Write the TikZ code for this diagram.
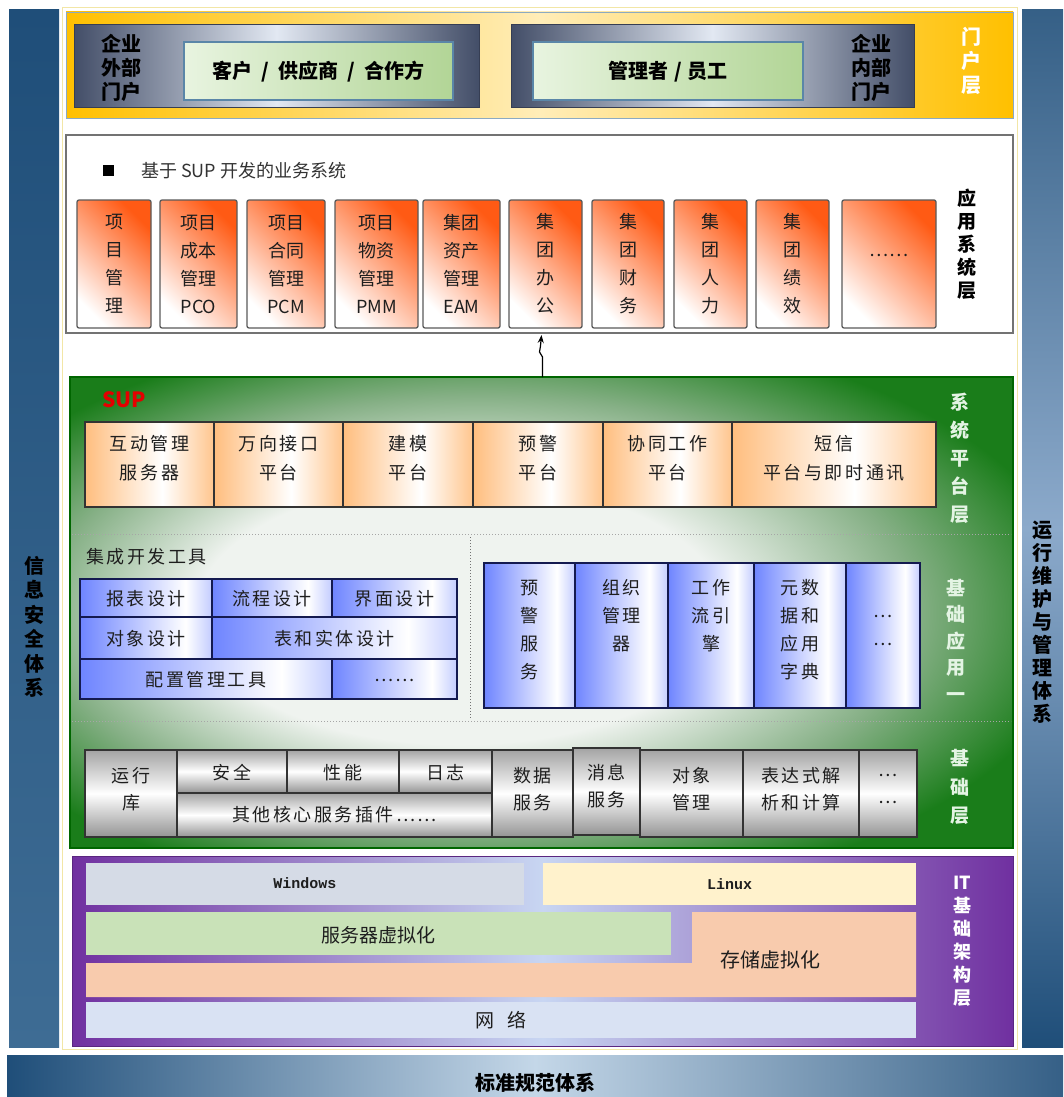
\documentclass[tikz,border=0pt]{standalone}
\usepackage{fontspec}
\setmainfont{Noto Sans CJK SC}
\newfontfamily\cjksp[LetterSpace=14]{Noto Sans CJK SC}
\newfontfamily\monob{Liberation Mono}
\usetikzlibrary{arrows.meta,calc}
\definecolor{bardark}{HTML}{1F4E79}
\definecolor{barmid}{HTML}{3E6C94}
\definecolor{barlight}{HTML}{8CAACB}
\definecolor{botlight}{HTML}{C4D7E8}
\definecolor{gold}{HTML}{FFC000}
\definecolor{goldlight}{HTML}{FFEDB8}
\definecolor{slate}{HTML}{434E68}
\definecolor{slatelight}{HTML}{E2E8F2}
\definecolor{gboxl}{HTML}{E8F4E0}
\definecolor{gboxr}{HTML}{B2D596}
\definecolor{gboxedge}{HTML}{5A86A8}
\definecolor{appor}{HTML}{FF5A14}
\definecolor{appedge}{HTML}{5A5A5A}
\definecolor{platorange}{HTML}{FF9630}
\definecolor{bluebx}{HTML}{2A4BFF}
\definecolor{navyedge}{HTML}{141A50}
\definecolor{supgreen}{HTML}{1A7D1A}
\definecolor{supmid}{HTML}{86B086}
\definecolor{suplight}{HTML}{EFF3EF}
\definecolor{paleg}{HTML}{E4F4E4}
\definecolor{purp}{HTML}{7030A0}
\definecolor{purplight}{HTML}{C8D6F2}
\definecolor{winbar}{HTML}{D5DBE6}
\definecolor{linbar}{HTML}{FFF2CC}
\definecolor{srvbar}{HTML}{C9E2B8}
\definecolor{stobar}{HTML}{F8CBAD}
\definecolor{netbar}{HTML}{D9E2F3}
\definecolor{framey}{HTML}{F2E6A6}
\definecolor{txtdark}{HTML}{1E1E1E}

\pgfdeclareradialshading{supglow}{\pgfpoint{-6bp}{0bp}}{color(0bp)=(suplight); color(14bp)=(suplight); color(23bp)=(supmid); color(31bp)=(supgreen); color(50bp)=(supgreen)}
\pgfdeclarehorizontalshading{orangebar}{100bp}{color(0bp)=(platorange); color(14bp)=(platorange!85!white); color(55bp)=(white); color(86bp)=(platorange!85!white); color(100bp)=(platorange)}
\pgfdeclarehorizontalshading{bluebar}{100bp}{color(0bp)=(bluebx); color(15bp)=(bluebx!85!white); color(65bp)=(white); color(90bp)=(bluebx!70!white); color(100bp)=(bluebx)}

% name, box opts, text opts, x1, y1, x2, y2, text y, text
\newcommand\bx[9]{%
  \pgfmathsetmacro\bxw{#6-#4}%
  \pgfmathsetmacro\bxh{#7-#5}%
  \pgfmathsetmacro\bxcx{(#4+#6)/2}%
  \pgfmathsetmacro\bxcy{(#5+#7)/2}%
  \node[#2, minimum width=\bxw pt, minimum height=\bxh pt] (#1) at (\bxcx,\bxcy) {};%
  \node[#3] (#1t) at (\bxcx,#8) {#9};%
}

\tikzset{
  every node/.style={inner sep=0pt, outer sep=0pt},
  sidebarL/.style={top color=bardark, bottom color=barmid},
  sidebarR/.style={top color=bardark!90!white, bottom color=bardark, middle color=barlight},
  botbarsty/.style={left color=bardark, right color=bardark!90!white, middle color=botlight},
  portalsty/.style={draw=gboxedge!70, line width=0.8pt, left color=gold, right color=gold, middle color=goldlight},
  slatesty/.style={draw=slate!80!black, line width=1pt, left color=slate, right color=slate, middle color=slatelight},
  gbox/.style={draw=gboxedge, line width=1.2pt, left color=gboxl, right color=gboxr},
  gboxT/.style={font=\bfseries\fontsize{20}{24}\selectfont, text=black},
  vlbl/.style={align=center, font=\bfseries\fontsize{20}{24.5}\selectfont, text=black},
  vlblR/.style={align=center, font=\bfseries\fontsize{20}{23}\selectfont, text=black},
  plbl/.style={align=center, font=\bfseries\fontsize{20}{24}\selectfont, text=black},
  botT/.style={font=\bfseries\fontsize{20}{24}\selectfont, text=black},
  appframe/.style={draw=black!55, line width=1.5pt, fill=white},
  appbox/.style={draw=appedge, line width=1.3pt, rounded corners=2pt, top color=appor, bottom color=white, shading angle=-45},
  appT/.style={align=center, font=\fontsize{18}{28}\selectfont, text=txtdark},
  supsty/.style={draw=black!60!green, line width=1.5pt, shade, shading=supglow},
  platbox/.style={draw=black!80, line width=1.2pt, shade, shading=orangebar},
  platT/.style={align=center, font=\cjksp\fontsize{18}{29}\selectfont, text=txtdark},
  bluebox/.style={draw=navyedge, line width=1.2pt, shade, shading=bluebar},
  blueT/.style={align=center, font=\cjksp\fontsize{18}{28}\selectfont, text=txtdark},
  graybox/.style={draw=black!80, line width=1.2pt, top color=black!36, bottom color=black!42, middle color=white},
  grayT/.style={align=center, font=\cjksp\fontsize{18}{27}\selectfont, text=txtdark},
  glbl/.style={align=center, font=\bfseries\fontsize{19}{28}\selectfont, text=paleg},
  dotsty/.style={draw=black!35, line width=1pt, dotted},
  purpsty/.style={draw=purp!80!black, line width=1pt, left color=purp, right color=purp, middle color=purplight},
  monoT/.style={font=\monob\bfseries\fontsize{15}{18}\selectfont, text=txtdark},
  itT/.style={font=\fontsize{19}{24}\selectfont, text=txtdark},
}

\begin{document}
\begin{tikzpicture}[x=1pt,y=-1pt]
\useasboundingbox (0,0) rectangle (1063,1097);
\fill[white] (0,0) rectangle (1063,1097);

% side bars and bottom bar
\bx{leftbar}{sidebarL}{vlbl}{9}{10}{59}{1047}{627}{信\\息\\安\\全\\体\\系}
\bx{rightbar}{sidebarR}{vlblR}{1022}{10}{1063}{1047}{622}{运\\行\\维\\护\\与\\管\\理\\体\\系}
\bx{botbar}{botbarsty}{botT}{7}{1055}{1063}{1097}{1083}{标准规范体系}

% thin frame
\draw[framey, line width=1pt] (62,8) rectangle (1017,1049);

% portal layer
\bx{portal}{portalsty}{plbl}{66}{12}{1013}{118}{65}{}
\bx{extp}{slatesty}{plbl}{74}{25}{479}{108}{68}{}
\node[plbl] (extlbl) at (121,68) {企业\\外部\\门户};
\bx{extg}{gbox}{gboxT}{184}{42}{453}{100}{72}{客户\hspace{0.45em}/\hspace{0.45em}供应商\hspace{0.45em}/\hspace{0.45em}合作方}
\bx{intp}{slatesty}{plbl}{511}{25}{914}{108}{68}{}
\bx{intg}{gbox}{gboxT}{533}{42}{803}{100}{72}{管理者\hspace{0.3em}/\hspace{0.3em}员工}
\node[plbl] (intlbl) at (871,68) {企业\\内部\\门户};
\node[plbl, text=white] (portlbl) at (971,61) {门\\户\\层};

% application layer
\bx{applayer}{appframe}{appT}{66}{135}{1013}{333}{234}{}
\node[fill=black, minimum size=11pt] (sq) at (108,170) {};
\node[anchor=west, font=\fontsize{18}{22}\selectfont, text=black!80] (apptitle) at (141,171) {基于 SUP 开发的业务系统};
\bx{a1}{appbox}{appT}{77}{200}{151}{328}{264}{项\\目\\管\\理}
\bx{a2}{appbox}{appT}{160}{200}{237}{328}{264}{项目\\成本\\管理\\PCO}
\bx{a3}{appbox}{appT}{247}{200}{325}{328}{264}{项目\\合同\\管理\\PCM}
\bx{a4}{appbox}{appT}{335}{200}{418}{328}{264}{项目\\物资\\管理\\PMM}
\bx{a5}{appbox}{appT}{423}{200}{500}{328}{264}{集团\\资产\\管理\\EAM}
\bx{a6}{appbox}{appT}{509}{200}{582}{328}{264}{集\\团\\办\\公}
\bx{a7}{appbox}{appT}{592}{200}{664}{328}{264}{集\\团\\财\\务}
\bx{a8}{appbox}{appT}{674}{200}{747}{328}{264}{集\\团\\人\\力}
\bx{a9}{appbox}{appT}{756}{200}{829}{328}{264}{集\\团\\绩\\效}
\bx{a10}{appbox}{appT}{842}{200}{936}{328}{264}{\phantom{集}\\……\\\phantom{集}\\\phantom{集}}
\node[align=center, font=\bfseries\fontsize{19}{23}\selectfont] (applbl) at (967,244) {应\\用\\系\\统\\层};

% SUP block
\bx{sup}{supsty}{appT}{70}{377}{1013}{848}{600}{}
\draw[dotsty] (72,534) -- (1011,534);
\draw[dotsty] (72,721) -- (1011,721);
\draw[dotsty, draw=black!55] (470,537) -- (470,719);

% arrow from SUP to application layer
\coordinate (arrS) at ($(sup.north -| a6.center)+(-3,0)$);
\coordinate (arrE) at ($(applayer.south -| a6.center)+(-4,2)$);
\draw[line width=1.2pt, -{Stealth[length=8pt,width=6pt]}] (arrS) -- ++(0,-20) -- ++(-3,-5) -- ++(1,-6) -- (arrE);

\node[font=\bfseries\fontsize{21}{21}\selectfont, text=red!90!black] (suptxt) at (124,400) {SUP};

% platform boxes
\bx{p1}{platbox}{platT}{85}{422}{214}{507}{458}{互动管理\\服务器}
\bx{p2}{platbox}{platT}{214}{422}{343}{507}{458}{万向接口\\平台}
\bx{p3}{platbox}{platT}{343}{422}{473}{507}{458}{建模\\平台}
\bx{p4}{platbox}{platT}{473}{422}{603}{507}{458}{预警\\平台}
\bx{p5}{platbox}{platT}{603}{422}{732}{507}{458}{协同工作\\平台}
\bx{p6}{platbox}{platT}{732}{422}{936}{507}{458}{短信\\平台与即时通讯}
\node[glbl] (syslbl) at (960,458) {系\\统\\平\\台\\层};

% development tools
\node[anchor=west, font=\cjksp\fontsize{18}{22}\selectfont, text=txtdark] (devlbl) at (86,557) {集成开发工具};
\bx{t1}{bluebox}{blueT}{80}{579}{212}{617}{599}{报表设计}
\bx{t2}{bluebox}{blueT}{212}{579}{332}{617}{599}{流程设计}
\bx{t3}{bluebox}{blueT}{332}{579}{457}{617}{599}{界面设计}
\bx{t4}{bluebox}{blueT}{80}{617}{212}{659}{639}{对象设计}
\bx{t5}{bluebox}{blueT}{212}{617}{457}{659}{639}{表和实体设计}
\bx{t6}{bluebox}{blueT}{80}{659}{332}{699}{680}{配置管理工具}
\bx{t7}{bluebox}{blueT}{332}{659}{457}{699}{680}{……}

% basic application services
\bx{b1}{bluebox}{blueT}{484}{563}{575}{708}{630}{预\\警\\服\\务}
\bx{b2}{bluebox}{blueT}{575}{563}{668}{708}{630}{组织\\管理\\器\\\phantom{器}}
\bx{b3}{bluebox}{blueT}{668}{563}{754}{708}{630}{工作\\流引\\擎\\\phantom{擎}}
\bx{b4}{bluebox}{blueT}{754}{563}{846}{708}{630}{元数\\据和\\应用\\字典}
\bx{b5}{bluebox}{blueT}{846}{563}{920}{708}{630}{\phantom{…}\\…\\…\\\phantom{…}}
\node[glbl, font=\bfseries\fontsize{19}{26.5}\selectfont] (bapplbl) at (956,640) {基\\础\\应\\用\\一};

% base layer
\bx{g1}{graybox}{grayT}{85}{750}{177}{837}{789}{运行\\库}
\bx{g2}{graybox}{grayT}{177}{750}{287}{793}{773}{安全}
\bx{g3}{graybox}{grayT}{287}{750}{399}{793}{773}{性能}
\bx{g4}{graybox}{grayT}{399}{750}{492}{793}{773}{日志}
\bx{g5}{graybox}{grayT}{177}{793}{492}{837}{815}{其他核心服务插件……}
\bx{g6}{graybox}{grayT}{492}{750}{573}{837}{789}{数据\\服务}
\bx{g7}{graybox}{grayT}{573}{748}{640}{835}{786}{消息\\服务}
\bx{g8}{graybox}{grayT}{640}{750}{743}{837}{789}{对象\\管理}
\bx{g9}{graybox}{grayT}{743}{750}{859}{837}{789}{表达式解\\析和计算}
\bx{g10}{graybox}{grayT}{859}{750}{917}{837}{789}{…\\…}
\node[glbl, font=\bfseries\fontsize{19}{28.5}\selectfont] (baselbl) at (960,787) {基\\础\\层};

% IT infrastructure layer
\bx{it}{purpsty}{itT}{72}{856}{1013}{1046}{950}{}
\bx{win}{fill=winbar}{monoT}{86}{863}{524}{905}{883}{Windows}
\bx{lin}{fill=linbar}{monoT}{543}{863}{916}{905}{884}{Linux}
\bx{srv}{fill=srvbar}{itT}{86}{912}{671}{955}{935}{服务器虚拟化}
\fill[stobar] (692,912) -- (916,912) -- (916,997) -- (86,997) -- (86,963) -- (692,963) -- cycle;
\node[itT, font=\fontsize{20}{24}\selectfont] (sto) at (770,960) {存储虚拟化};
\bx{net}{fill=netbar}{itT}{86}{1002}{916}{1038}{1020}{网\hspace{0.7em}络}
\node[align=center, font=\bfseries\fontsize{18}{23}\selectfont, text=white] (itlbl) at (962,941) {IT\\基\\础\\架\\构\\层};
\end{tikzpicture}
\end{document}
